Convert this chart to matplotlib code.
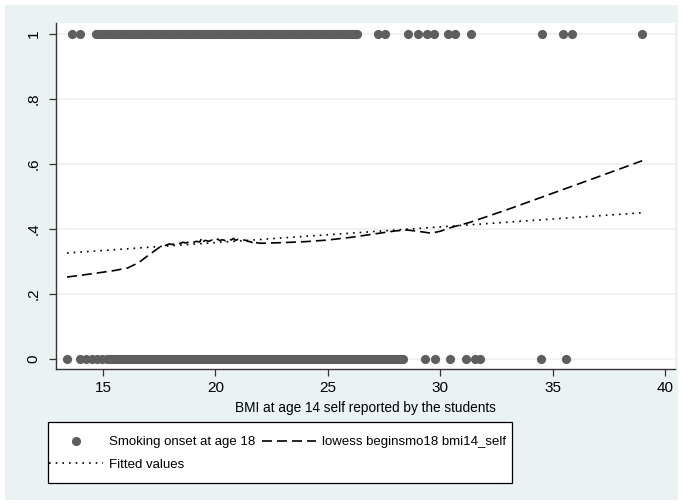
import numpy as np
import matplotlib.pyplot as plt
from matplotlib.patches import Rectangle

plt.rcParams['font.family'] = ['Liberation Sans', 'DejaVu Sans']

# BMI das observações com início de fumo = 1
bmi_fuma = [13.62, 13.98,
            14.7, 14.8, 14.9, 15.0, 15.1, 15.2, 15.3, 15.4, 15.5, 15.6,
            15.7, 15.8, 15.9, 16.0, 16.1, 16.2, 16.3, 16.4, 16.5, 16.6,
            16.7, 16.8, 16.9, 17.0, 17.1, 17.2, 17.3, 17.4, 17.5, 17.6,
            17.7, 17.8, 17.9, 18.0, 18.1, 18.2, 18.3, 18.4, 18.5, 18.6,
            18.7, 18.8, 18.9, 19.0, 19.1, 19.2, 19.3, 19.4, 19.5, 19.6,
            19.7, 19.8, 19.9, 20.0, 20.1, 20.2, 20.3, 20.4, 20.5, 20.6,
            20.7, 20.8, 20.9, 21.0, 21.1, 21.2, 21.3, 21.4, 21.5, 21.6,
            21.7, 21.8, 21.9, 22.0, 22.1, 22.2, 22.3, 22.4, 22.5, 22.6,
            22.7, 22.8, 22.9, 23.0, 23.1, 23.2, 23.3, 23.4, 23.5, 23.6,
            23.7, 23.8, 23.9, 24.0, 24.1, 24.2, 24.3, 24.4, 24.5, 24.6,
            24.7, 24.8, 24.9, 25.0, 25.1, 25.2, 25.3, 25.4, 25.5, 25.6,
            25.7, 25.8, 25.9, 26.0, 26.1, 26.2, 26.3,
            27.23, 27.54, 28.57, 29.01, 29.41, 29.72, 30.35, 30.66, 31.37,
            34.53, 35.46, 35.86, 38.98]

# BMI das observações com início de fumo = 0
bmi_nao = [13.40, 13.98, 14.24, 14.51, 14.73, 14.96,
           15.2, 15.3, 15.4, 15.5, 15.6, 15.7, 15.8, 15.9, 16.0, 16.1,
           16.2, 16.3, 16.4, 16.5, 16.6, 16.7, 16.8, 16.9, 17.0, 17.1,
           17.2, 17.3, 17.4, 17.5, 17.6, 17.7, 17.8, 17.9, 18.0, 18.1,
           18.2, 18.3, 18.4, 18.5, 18.6, 18.7, 18.8, 18.9, 19.0, 19.1,
           19.2, 19.3, 19.4, 19.5, 19.6, 19.7, 19.8, 19.9, 20.0, 20.1,
           20.2, 20.3, 20.4, 20.5, 20.6, 20.7, 20.8, 20.9, 21.0, 21.1,
           21.2, 21.3, 21.4, 21.5, 21.6, 21.7, 21.8, 21.9, 22.0, 22.1,
           22.2, 22.3, 22.4, 22.5, 22.6, 22.7, 22.8, 22.9, 23.0, 23.1,
           23.2, 23.3, 23.4, 23.5, 23.6, 23.7, 23.8, 23.9, 24.0, 24.1,
           24.2, 24.3, 24.4, 24.5, 24.6, 24.7, 24.8, 24.9, 25.0, 25.1,
           25.2, 25.3, 25.4, 25.5, 25.6, 25.7, 25.8, 25.9, 26.0, 26.1,
           26.2, 26.3, 26.4, 26.5, 26.6, 26.7, 26.8, 26.9, 27.0, 27.1,
           27.2, 27.3, 27.4, 27.5, 27.6, 27.7, 27.8, 27.9, 28.0, 28.1,
           28.2, 28.35,
           29.32, 29.77, 30.44, 31.15, 31.55, 31.77, 34.48, 35.60]

# Curva lowess
lowess_x = [13.4, 14.5, 15.5, 16.1, 16.6, 17.0, 17.5, 17.8, 17.95, 18.1,
            18.25, 18.4, 18.55, 18.7, 18.85, 19.0, 19.15, 19.3, 19.4, 19.45,
            19.55, 19.7, 19.85, 20.0, 20.1, 20.2, 20.3, 20.45, 20.6, 20.7,
            20.8, 20.9, 21.0, 21.15, 21.3, 21.45, 21.6, 21.7, 21.8, 22.0,
            23.0, 24.0, 25.0, 26.0, 27.0, 28.0, 28.5, 29.0, 29.6, 30.0,
            30.5, 31.3, 33.0, 35.0, 37.0, 38.98]
lowess_y = [0.252, 0.262, 0.272, 0.280, 0.297, 0.318, 0.343, 0.350, 0.354,
            0.352, 0.357, 0.355, 0.359, 0.357, 0.361, 0.358, 0.362, 0.360,
            0.372, 0.361, 0.365, 0.362, 0.366, 0.363, 0.369, 0.364, 0.367,
            0.364, 0.370, 0.366, 0.371, 0.365, 0.368, 0.365, 0.366, 0.362,
            0.360, 0.352, 0.358, 0.356, 0.358, 0.361, 0.366, 0.374, 0.384,
            0.394, 0.397, 0.393, 0.387, 0.393, 0.405, 0.420, 0.460, 0.510,
            0.560, 0.610]

# Valores ajustados (reta)
fit_x = [13.4, 38.98]
fit_y = [0.326, 0.450]

xticks = [15, 20, 25, 30, 35, 40]
yticks = [0, 0.2, 0.4, 0.6, 0.8, 1]
ylabels = ['0', '.2', '.4', '.6', '.8', '1']

W, H = 683, 503
fig = plt.figure(figsize=(W / 100, H / 100), dpi=100, facecolor='white')
fig.patches.append(Rectangle((5 / W, 3 / H), 673 / W, 495 / H,
                             transform=fig.transFigure, facecolor='#eaf2f3',
                             edgecolor='none', zorder=-10))
# caixa da legenda
fig.patches.append(Rectangle((48 / W, (H - 483) / H), 464 / W, 61 / H,
                             transform=fig.transFigure, facecolor='white',
                             edgecolor='black', lw=0.9, zorder=-5))

ax = fig.add_axes([56 / W, (H - 369) / H, (675 - 56) / W, (369 - 23) / H])
ax.set_facecolor('white')

pts, = ax.plot(bmi_fuma, np.ones(len(bmi_fuma)), 'o', color='#5e5e5e',
               markersize=6.6, markeredgewidth=0, zorder=3)
ax.plot(bmi_nao, np.zeros(len(bmi_nao)), 'o', color='#5e5e5e',
        markersize=6.6, markeredgewidth=0, zorder=3)
low, = ax.plot(lowess_x, lowess_y, color='black', lw=1.2, dashes=(6, 3),
               zorder=4)
fit, = ax.plot(fit_x, fit_y, color='black', lw=1.2, dashes=(1, 3), zorder=4)

ax.set_xlim(12.91, 40.44)
ax.set_ylim(-0.031, 1.034)
ax.set_xticks(xticks)
ax.set_yticks(yticks)
ax.set_yticklabels(ylabels, rotation=90, va='center')
ax.grid(axis='y', color='#eef0f0', lw=1.2, zorder=0)
ax.set_axisbelow(True)
for s in ['top', 'right']:
    ax.spines[s].set_visible(False)
for s in ['left', 'bottom']:
    ax.spines[s].set_color('#333333')
    ax.spines[s].set_linewidth(1.0)
ax.tick_params(axis='both', direction='out', length=5, width=0.9,
               color='#333333', labelsize=11)
ax.tick_params(axis='y', pad=6)
ax.tick_params(axis='x', pad=4)
ax.set_xlabel('BMI at age 14 self reported by the students', fontsize=9.8,
              labelpad=4)

leg = fig.legend([pts, fit, low],
                 ['Smoking onset at age 18', 'Fitted values',
                  'lowess beginsmo18 bmi14_self'],
                 ncol=2, loc='upper left',
                 bbox_to_anchor=(49 / W, 1 - 436 / H),
                 frameon=False, fontsize=9.5, handlelength=4.1,
                 handletextpad=0.45, columnspacing=0.5, borderpad=0,
                 borderaxespad=0, labelspacing=0.8)

plt.savefig('out.png', dpi=100, facecolor=fig.get_facecolor())
